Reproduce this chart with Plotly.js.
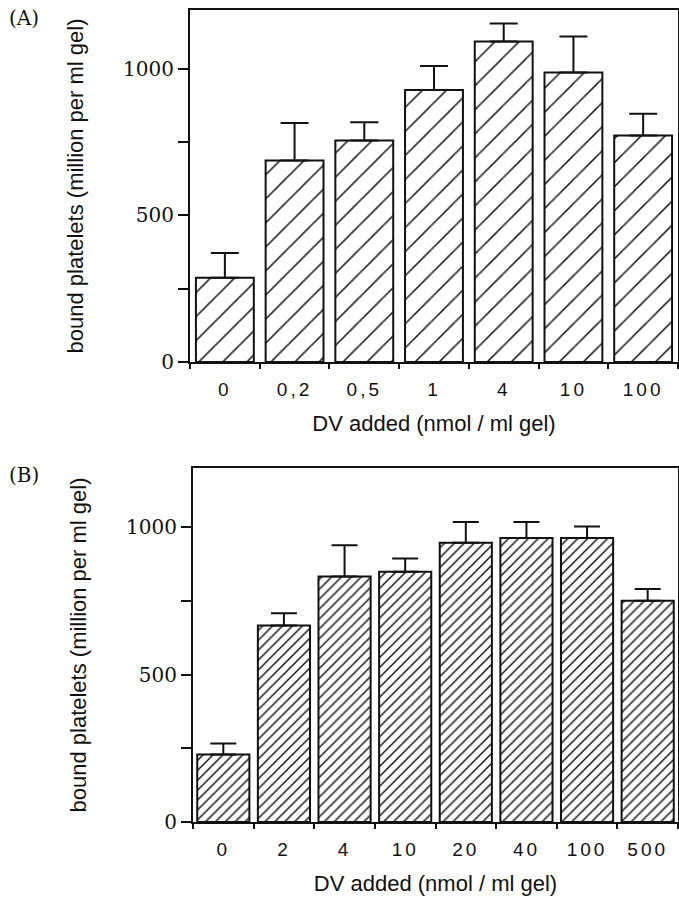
<!DOCTYPE html>
<html>
<head>
<meta charset="utf-8">
<script src="https://cdn.plot.ly/plotly-3.0.1.min.js"></script>
<style>
  html, body { margin: 0; padding: 0; background: #fff; }
  #chart { width: 679px; height: 900px; }
  g.xtick text, g.x2tick text { letter-spacing: 3px; }
</style>
</head>
<body>
<div id="chart"></div>
<script>
// Panel A
const catsA = ["0", "0,2", "0,5", "1", "4", "10", "100"];
const meanA = [287, 687, 755, 927, 1093, 987, 772];
const errA  = [85, 128, 62, 82, 61, 123, 74];

// Panel B
const catsB = ["0", "2", "4", "10", "20", "40", "100", "500"];
const meanB = [229, 666, 832, 848, 947, 963, 963, 750];
const errB  = [37, 42, 106, 45, 70, 54, 39, 40];

const yTickVals = [0, 250, 500, 750, 1000];
const yTickText = ["0", "", "500", "", "1000"];

const yTitle = "bound platelets (million per ml gel)";
const xTitle = "DV added (nmol / ml gel)";

const zerosA = meanA.map(() => 0);
const zerosB = meanB.map(() => 0);

const traceA = {
  type: "bar", x: catsA, y: meanA, xaxis: "x", yaxis: "y",
  width: 0.83,
  marker: {
    color: "white",
    line: { color: "#111", width: 2 },
    pattern: { shape: "/", size: 17, solidity: 0.09, fgcolor: "#1a1a1a", bgcolor: "white", fillmode: "replace" }
  },
  error_y: { type: "data", symmetric: false, array: errA, arrayminus: zerosA, color: "#111", thickness: 2, width: 14 },
  showlegend: false, hoverinfo: "skip"
};

const traceB = {
  type: "bar", x: catsB, y: meanB, xaxis: "x2", yaxis: "y2",
  width: 0.86,
  marker: {
    color: "white",
    line: { color: "#111", width: 2 },
    pattern: { shape: "/", size: 7, solidity: 0.22, fgcolor: "#1a1a1a", bgcolor: "white", fillmode: "replace" }
  },
  error_y: { type: "data", symmetric: false, array: errB, arrayminus: zerosB, color: "#111", thickness: 2, width: 13 },
  showlegend: false, hoverinfo: "skip"
};

const H = 900, T = 10, B = 78;
const ph = H - T - B;
const frac = p => (H - B - p) / ph;

const yAxisCommon = {
  range: [0, 1200],
  tickvals: yTickVals, ticktext: yTickText,
  ticks: "outside", ticklen: 10, tickwidth: 2, tickcolor: "#111",
  showline: true, linewidth: 2, linecolor: "#111", mirror: true,
  showgrid: false, zeroline: false,
  tickfont: { family: "DejaVu Serif", size: 20, color: "#111" },
  title: { text: yTitle, font: { family: "Liberation Sans, Arial", size: 22, color: "#111" }, standoff: 33 },
  fixedrange: true
};

const xAxisCommon = {
  type: "category",
  ticks: "outside", ticklen: 5, tickwidth: 2, tickcolor: "#111", tickson: "boundaries",
  showline: true, linewidth: 2, linecolor: "#111", mirror: true,
  showgrid: false, zeroline: false,
  tickfont: { family: "Liberation Sans, Arial", size: 19, color: "#111" },
  ticklabelstandoff: 9,
  title: { text: xTitle, font: { family: "Liberation Sans, Arial", size: 22, color: "#111" }, standoff: 17 },
  fixedrange: true
};

const layout = {
  width: 679, height: 900,
  margin: { l: 190, r: 1, t: T, b: B },
  paper_bgcolor: "white", plot_bgcolor: "white",
  showlegend: false,
  xaxis: Object.assign({}, xAxisCommon, { domain: [0, 1], anchor: "y" }),
  yaxis: Object.assign({}, yAxisCommon, { domain: [frac(362), 1], anchor: "x" }),
  xaxis2: Object.assign({}, xAxisCommon, { domain: [3 / 488, 1], anchor: "y2" }),
  yaxis2: Object.assign({}, yAxisCommon, { domain: [0, frac(468)], anchor: "x2" }),
  annotations: [
    { text: "(A)", xref: "paper", yref: "paper", x: -183 / 488, y: frac(18), xanchor: "left", yanchor: "middle",
      showarrow: false, font: { family: "DejaVu Serif", size: 20, color: "#111" } },
    { text: "(B)", xref: "paper", yref: "paper", x: -183 / 488, y: frac(475), xanchor: "left", yanchor: "middle",
      showarrow: false, font: { family: "DejaVu Serif", size: 20, color: "#111" } }
  ]
};

Plotly.newPlot("chart", [traceA, traceB], layout, { staticPlot: true, displayModeBar: false });
</script>
</body>
</html>
